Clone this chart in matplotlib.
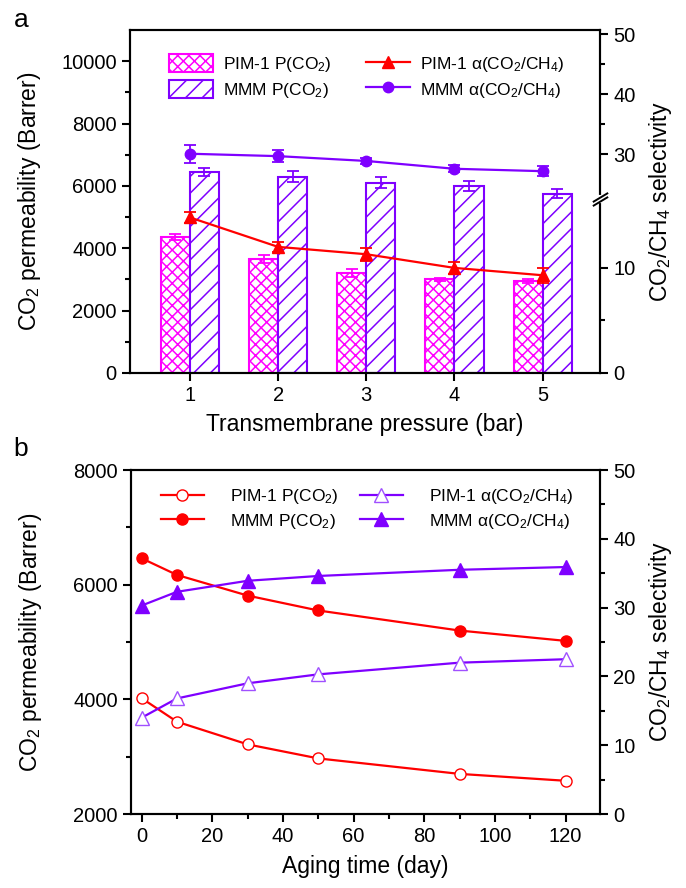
import numpy as np
import matplotlib
matplotlib.use("Agg")
import matplotlib.pyplot as plt
import matplotlib.transforms as mtransforms
from matplotlib.ticker import MultipleLocator, FixedLocator

plt.rcParams["font.family"] = ["Liberation Sans", "DejaVu Sans"]
plt.rcParams["mathtext.fontset"] = "custom"
plt.rcParams["mathtext.rm"] = "Liberation Sans"
plt.rcParams["mathtext.it"] = "Liberation Sans:italic"
plt.rcParams["mathtext.default"] = "regular"
plt.rcParams["hatch.linewidth"] = 1.1

RED = "#FF0000"
MAGENTA = "#FF00FF"
PURPLE = "#7F00FF"
LIGHT_PURPLE = "#A050FF"

# (a) effect of transmembrane pressure
pressure = [1, 2, 3, 4, 5]
pim_perm = [4350, 3650, 3200, 3000, 2950]
pim_perm_err = [100, 130, 120, 60, 50]
mmm_perm = [6450, 6300, 6100, 6000, 5750]
mmm_perm_err = [140, 190, 180, 160, 150]
pim_sel = [14.8, 12.0, 11.3, 10.0, 9.3]
pim_sel_err = [0.5, 0.5, 0.6, 0.6, 0.7]
mmm_sel = [30.1, 29.7, 28.9, 27.6, 27.2]
mmm_sel_err = [1.5, 1.0, 0.5, 0.6, 0.8]

# (b) physical aging
days = [0, 10, 30, 50, 90, 120]
pim_perm_age = [4020, 3610, 3215, 2970, 2700, 2580]
mmm_perm_age = [6460, 6170, 5810, 5550, 5200, 5020]
pim_sel_age = [14.0, 16.8, 19.0, 20.3, 22.0, 22.5]
mmm_sel_age = [30.3, 32.3, 33.9, 34.6, 35.5, 35.9]

# broken selectivity axis for panel a: 0-16.5 and 22.5-50 on different scales
sel_knots = [-100, 0, 16.5, 22.5, 100]
perm_knots = [-33760, 0, 5560, 5565, 5565 + 77.5 * 192.9]


def fwd(s):
    return np.interp(s, sel_knots, perm_knots)


def inv(p):
    return np.interp(p, perm_knots, sel_knots)


LBL = 16.5
TCK = 14.5
LEG = 12.5

fig = plt.figure(figsize=(6.86, 8.88), dpi=100)
ax = fig.add_axes([0.1895, 0.58, 0.685, 0.3862])
ax2 = ax.twinx()

x = np.array(pressure)
w = 0.33
bar_pim = ax.bar(x - w / 2, pim_perm, w, facecolor="white", edgecolor=MAGENTA,
                 hatch="xxx", lw=1.5, label="PIM-1 P(CO$_2$)")
bar_mmm = ax.bar(x + w / 2, mmm_perm, w, facecolor="white", edgecolor=PURPLE,
                 hatch="//", lw=1.5, label="MMM P(CO$_2$)")
ax.errorbar(x - w / 2, pim_perm, yerr=pim_perm_err, fmt="none", ecolor=MAGENTA,
            capsize=4, elinewidth=1.3, capthick=1.3, zorder=3)
ax.errorbar(x + w / 2, mmm_perm, yerr=mmm_perm_err, fmt="none", ecolor=PURPLE,
            capsize=4, elinewidth=1.3, capthick=1.3, zorder=3)

ax2.set_yscale("function", functions=(fwd, inv))
ln_pim, = ax2.plot(x, pim_sel, color=RED, marker="^", ms=8, lw=1.6,
                   label="PIM-1 α(CO$_2$/CH$_4$)")
ax2.errorbar(x, pim_sel, yerr=pim_sel_err, fmt="none", ecolor=RED,
             capsize=4, elinewidth=1.3, capthick=1.3)
ln_mmm, = ax2.plot(x, mmm_sel, color=PURPLE, marker="o", ms=7.5, lw=1.6,
                   label="MMM α(CO$_2$/CH$_4$)")
ax2.errorbar(x, mmm_sel, yerr=mmm_sel_err, fmt="none", ecolor=PURPLE,
             capsize=4, elinewidth=1.3, capthick=1.3)

ax.set_xlim(0.32, 5.65)
ax.set_ylim(0, 11000)
ax2.set_ylim(0, 50.67)
ax.set_xticks(pressure)
ax.yaxis.set_major_locator(FixedLocator([0, 2000, 4000, 6000, 8000, 10000]))
ax.yaxis.set_minor_locator(FixedLocator([1000, 3000, 5000, 7000, 9000]))
ax2.yaxis.set_major_locator(FixedLocator([0, 10, 30, 40, 50]))
ax2.yaxis.set_minor_locator(FixedLocator([5, 35, 45]))
ax2.yaxis.set_major_formatter(plt.FuncFormatter(lambda v, p: f"{v:.0f}"))

ax.set_xlabel("Transmembrane pressure (bar)", fontsize=LBL, labelpad=6)
ax.set_ylabel("CO$_2$ permeability (Barrer)", fontsize=LBL)
ax.yaxis.set_label_coords(-0.185, 0.5)
ax2.set_ylabel("CO$_2$/CH$_4$ selectivity", fontsize=LBL, labelpad=8)

# break marks on the right spine
brk = mtransforms.blended_transform_factory(ax2.transAxes, ax.transData)
ax2.plot([1, 1], [5500, 5630], color="white", lw=3, transform=brk,
         clip_on=False, zorder=10)
for yb in (5500, 5630):
    ax2.plot([1], [yb], marker=[(-1, -0.6), (1, 0.6)], ms=11, mew=1.4,
             color="black", transform=brk, clip_on=False, zorder=11)

ax2.legend([bar_pim, bar_mmm, ln_pim, ln_mmm],
           [h.get_label() for h in (bar_pim, bar_mmm, ln_pim, ln_mmm)],
           ncol=2, loc="upper left", bbox_to_anchor=(0.05, 0.975), frameon=False,
           fontsize=LEG, handlelength=2.5, handleheight=1.2, handletextpad=0.6,
           columnspacing=2.0, labelspacing=0.35)

# (b)
bx = fig.add_axes([0.191, 0.0833, 0.684, 0.3874])
bx2 = bx.twinx()
l1, = bx.plot(days, pim_perm_age, color=RED, marker="o", ms=8, lw=1.6,
              mfc="white", mec=RED, label="PIM-1 P(CO$_2$)")
l2, = bx.plot(days, mmm_perm_age, color=RED, marker="o", ms=8, lw=1.6,
              label="MMM P(CO$_2$)")
l3, = bx2.plot(days, pim_sel_age, color=PURPLE, marker="^", ms=9.5, lw=1.6,
               mfc="white", mec=LIGHT_PURPLE, label="PIM-1 α(CO$_2$/CH$_4$)")
l4, = bx2.plot(days, mmm_sel_age, color=PURPLE, marker="^", ms=9.5, lw=1.6,
               label="MMM α(CO$_2$/CH$_4$)")

bx.set_xlim(-3, 129.8)
bx.set_ylim(2000, 8000)
bx2.set_ylim(0, 50)
bx.xaxis.set_major_locator(MultipleLocator(20))
bx.xaxis.set_minor_locator(MultipleLocator(10))
bx.yaxis.set_major_locator(MultipleLocator(2000))
bx.yaxis.set_minor_locator(MultipleLocator(1000))
bx2.yaxis.set_major_locator(MultipleLocator(10))
bx2.yaxis.set_minor_locator(MultipleLocator(5))

bx.set_xlabel("Aging time (day)", fontsize=LBL, labelpad=6)
bx.set_ylabel("CO$_2$ permeability (Barrer)", fontsize=LBL)
bx.yaxis.set_label_coords(-0.185, 0.5)
bx2.set_ylabel("CO$_2$/CH$_4$ selectivity", fontsize=LBL, labelpad=8)

bx2.legend([l1, l2, l3, l4], [h.get_label() for h in (l1, l2, l3, l4)],
           ncol=2, loc="upper left", bbox_to_anchor=(0.03, 0.995), frameon=False,
           fontsize=LEG, handlelength=2.5, handletextpad=1.5,
           columnspacing=1.2, labelspacing=0.3)

for a in (ax, ax2, bx, bx2):
    for s in a.spines.values():
        s.set_linewidth(1.5)
    a.tick_params(which="major", direction="out", length=6, width=1.5,
                  labelsize=TCK)
    a.tick_params(which="minor", direction="out", length=3.5, width=1.5)

fig.text(0.02, 0.978, "a", fontsize=19, va="center", ha="left")
fig.text(0.02, 0.494, "b", fontsize=19, va="center", ha="left")

fig.savefig("out.png", dpi=100)
